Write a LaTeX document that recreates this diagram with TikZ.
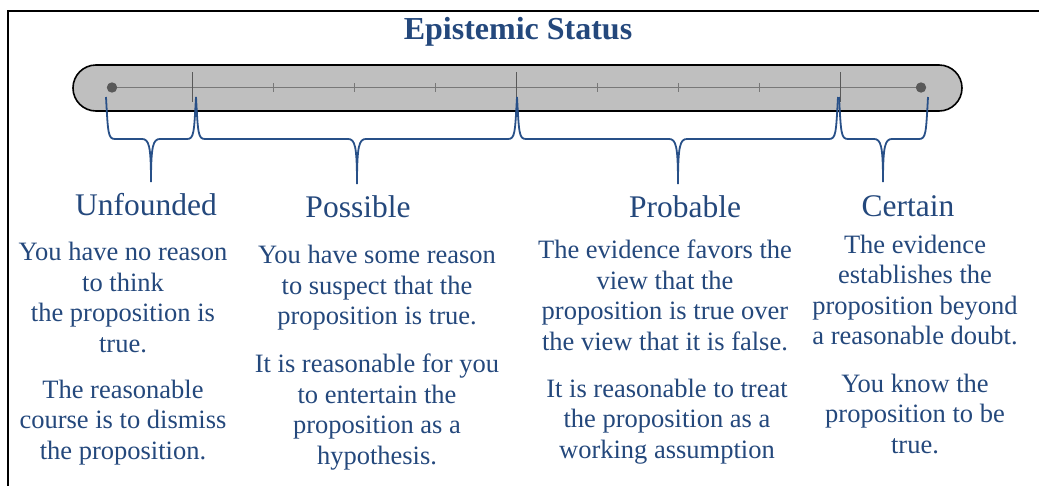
\documentclass[tikz,border=0pt]{standalone}
\usepackage{fontspec}
\setmainfont{Liberation Serif}
\definecolor{txtblue}{RGB}{36,72,124}
\definecolor{brblue}{RGB}{40,80,136}
\definecolor{bargray}{RGB}{191,191,191}
\definecolor{dotgray}{RGB}{89,89,89}
\definecolor{axgray}{RGB}{120,120,120}
\newcommand\mybrace[5]{% name, x1, x2, xm, tip y
  \coordinate (#1tip) at (#4,#5);
  \draw[bracestyle] (#2,97) .. controls (#2+2,133) and (#2+2,139) .. (#2+9,139)
    -- (#4-9,139) .. controls (#4-2,139) and (#4,146) .. (#1tip)
    .. controls (#4,146) and (#4+2,139) .. (#4+9,139)
    -- (#3-9,139) .. controls (#3-2,139) and (#3-2,133) .. (#3,97);}
\tikzset{
  bracestyle/.style={draw=brblue, line width=1.8pt},
  head/.style={text=txtblue, font=\fontsize{31.5}{36}\selectfont, inner sep=0pt},
  body/.style={text=txtblue, font=\fontsize{26.5}{30.5}\selectfont, align=center, inner sep=0pt},
  minortick/.style={draw=axgray, line width=0.9pt},
  majortick/.style={draw=dotgray, line width=1pt},
}
\begin{document}
\begin{tikzpicture}[x=1pt,y=-1pt]
\useasboundingbox (0,0) rectangle (1039,485);
% frame
\draw[line width=2pt] (7.5,500) -- (7.5,11) -- (1050,11);
% title
\node[text=txtblue, font=\fontsize{32}{36}\selectfont\bfseries, inner sep=0pt] (title) at (518,32) {Epistemic Status};
% bar
\draw[fill=bargray, line width=1.6pt, rounded corners=23pt] (73,65) rectangle (962,111);
\coordinate (a0) at (112,87.5);
\coordinate (a10) at (921,87.5);
\draw[axgray, line width=0.8pt] (a0) -- (a10);
\foreach \k in {2,3,4,6,7,8} {
  \draw[minortick] ({112+80.9*\k},83) -- ({112+80.9*\k},92);
}
\foreach \k in {1,5,9} {
  \draw[majortick] ({112+80.9*\k},72) -- ({112+80.9*\k},102);
}
\fill[dotgray] (a0) circle (5.2);
\fill[dotgray] (a10) circle (5.2);
% braces
\mybrace{b1}{106}{196}{151}{182}
\mybrace{b2}{196}{517}{357}{184}
\mybrace{b3}{517}{838}{678}{184}
\mybrace{b4}{839}{928}{883}{182}
% headings
\node[head] (h1) at (146,205) {Unfounded};
\node[head] (h2) at (358,207) {Possible};
\node[head] (h3) at (685,207) {Probable};
\node[head] (h4) at (908,206) {Certain};
% bodies
\node[body] (u1) at (123,297.5) {You have no reason\\to think\\the proposition is\\true.};
\node[body] (u2) at (123,422.5) {The reasonable\\course is to dismiss\\the proposition.};
\node[body] (p1) at (377,288) {You have some reason\\to suspect that the\\proposition is true.};
\node[body] (p2) at (377,412) {It is reasonable for you\\to entertain the\\proposition as a\\hypothesis.};
\node[body] (r1) at (665,295.5) {The evidence favors the\\view that the\\proposition is true over\\the view that it is false.};
\node[body] (r2) at (667,421.5) {It is reasonable to treat\\the proposition as a\\working assumption};
\node[body] (c1) at (915,290) {The evidence\\establishes the\\proposition beyond\\a reasonable doubt.};
\node[body] (c2) at (915,413.5) {You know the\\proposition to be\\true.};
\end{tikzpicture}
\end{document}
